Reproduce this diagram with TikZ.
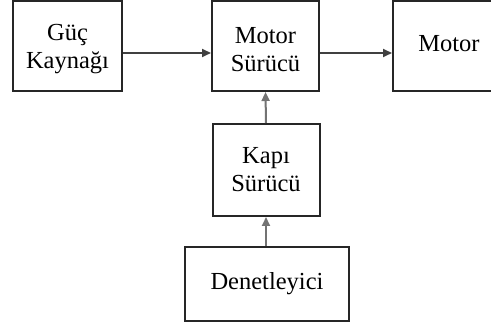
\documentclass[tikz,border=0pt]{standalone}
\usepackage{fontspec}
\setmainfont{Liberation Serif}
\usetikzlibrary{arrows.meta}
\begin{document}
\begin{tikzpicture}[x=1pt,y=-1pt,
  blockbox/.style={draw=black!85, line width=2pt, inner sep=0pt, align=center,
    font=\fontsize{24.5}{28}\selectfont, anchor=north west},
  blocktext/.style={align=center, inner sep=0pt, font=\fontsize{24.5}{28}\selectfont},
  arr/.style={line width=2pt, -{Triangle[length=9pt,width=8pt]}},
  harr/.style={arr, draw=black!75},
  varr/.style={arr, draw=black!55}]
\useasboundingbox (0,0) rectangle (491,328);
\clip (0,0) rectangle (491,328);
\fill[white] (0,0) rectangle (491,328);
% blocks
\node[blockbox, minimum width=109pt, minimum height=90pt,
  label={[blocktext, yshift=-3pt]center:Güç\\Kaynağı}] (guc) at (12,0) {};
\node[blockbox, minimum width=107pt, minimum height=90pt,
  label={[blocktext, yshift=-4pt]center:Motor\\Sürücü}] (ms) at (211,0) {};
\node[blockbox, minimum width=120pt, minimum height=90pt] (mot) at (392,0) {};
\node[blocktext] (motl) at (449,44) {Motor};
\node[blockbox, minimum width=107pt, minimum height=92pt] (kapi) at (211.5,123) {Kapı\\Sürücü};
\node[blockbox, minimum width=164pt, minimum height=74pt] (den) at (184,246) {Denetleyici};
% connectors
\draw[harr] ([yshift=-7pt]guc.east) -- ([yshift=-7pt]ms.west);
\draw[harr] ([yshift=-7pt]ms.east) -- ([yshift=-7pt]mot.west);
\draw[varr] (kapi.north) -- (ms.south);
\draw[varr] (den.north -| kapi.south) -- (kapi.south);
\end{tikzpicture}
\end{document}
